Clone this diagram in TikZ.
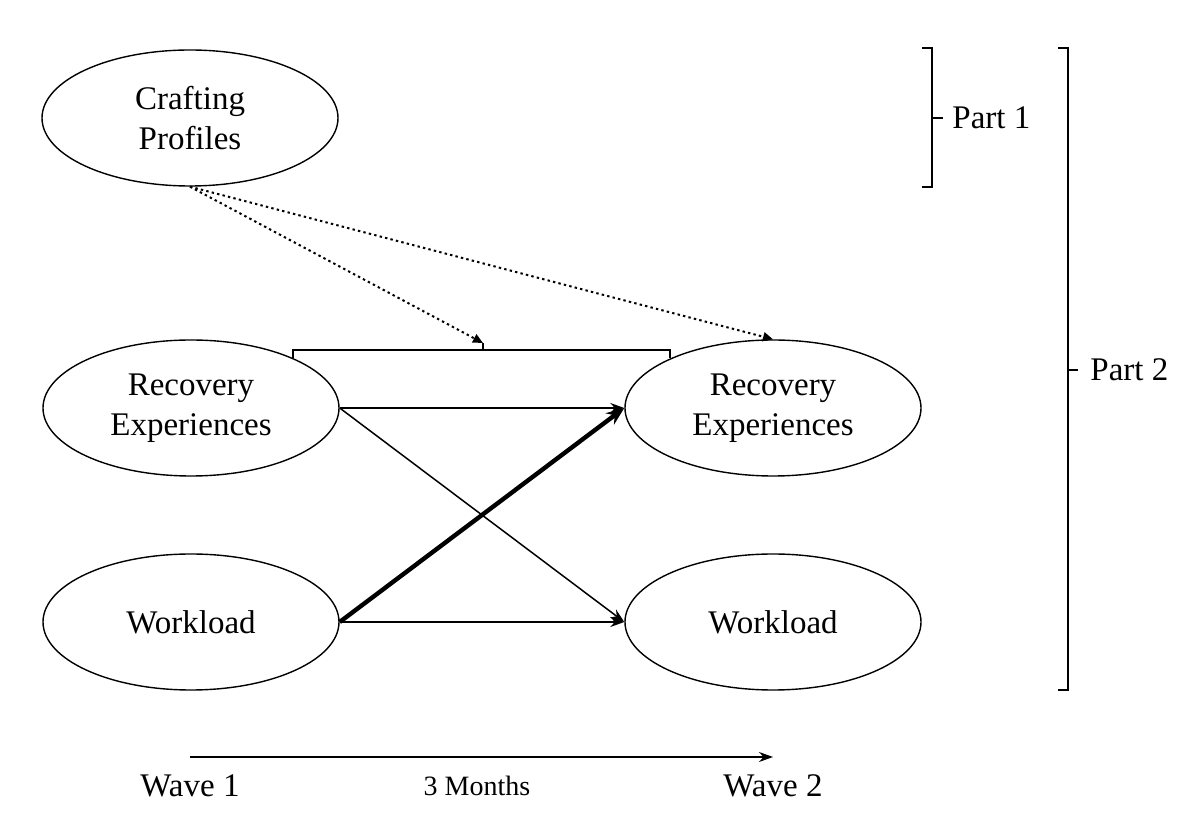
\documentclass[tikz,border=0pt]{standalone}
\usepackage{fontspec}
\setmainfont{Liberation Serif}
\usetikzlibrary{shapes.geometric,arrows.meta}
\begin{document}
\begin{tikzpicture}[x=0.5pt,y=-0.5pt,
  latent/.style={draw,ellipse,line width=0.7pt,minimum width=148pt,minimum height=68pt,inner sep=0pt,align=center,font=\fontsize{16.5}{20}\selectfont},
  path/.style={line width=0.75pt,-{Stealth[length=7pt,width=5pt]}},
  strong/.style={line width=2.2pt,-{Stealth[length=9pt,width=7pt]}},
  dotarrow/.style={line width=1pt,dash pattern=on 1.2pt off 1.6pt,-{Triangle[length=5pt,width=4.5pt]}},
  brk/.style={line width=0.75pt},
  lbl/.style={font=\fontsize{16.5}{20}\selectfont,inner sep=0pt},
  small/.style={font=\fontsize{14}{16}\selectfont,inner sep=0pt}]
\useasboundingbox (0,0) rectangle (1200,833);
\node[latent] (cp) at (190,118) {Crafting\\Profiles};
\node[latent] (re1) at (191,408) {Recovery\\Experiences};
\node[latent] (wl1) at (191,622) {Workload};
\node[latent] (re2) at (773,408) {Recovery\\Experiences};
\node[latent] (wl2) at (773,622) {Workload};
% cross-lagged paths
\draw[path] (re1.east) -- (re2.west);
\draw[path] (re1.east) -- (wl2.west);
\draw[path] (wl1.east) -- (wl2.west);
\draw[strong] (wl1.east) -- (re2.west);
% bracket joining the two recovery nodes
\coordinate (bl) at (293,358);
\coordinate (br) at (670,358);
\coordinate (bm) at (483,350);
\coordinate (bn) at (483,343);
\draw[brk] (bl) -- (293,350) -- (670,350) -- (br);
\draw[brk] (bm) -- (bn);
% moderation paths
\draw[dotarrow] (cp.south) -- (bn);
\draw[dotarrow] (cp.south) -- (re2.north);
% Part 1 bracket
\coordinate (p1t) at (922,48);
\coordinate (p1b) at (922,187);
\coordinate (p1m) at (932,118);
\draw[brk] (p1t) -- (932,48) -- (932,187) -- (p1b);
\node[lbl,anchor=west] (part1) at (952,118) {Part 1};
\draw[brk] (p1m) -- (943,118);
% Part 2 bracket
\coordinate (p2t) at (1058,48);
\coordinate (p2b) at (1058,690);
\coordinate (p2m) at (1068,370);
\draw[brk] (p2t) -- (1068,48) -- (1068,690) -- (p2b);
\node[lbl,anchor=west] (part2) at (1090,370) {Part 2};
\draw[brk] (p2m) -- (1078,370);
% time axis
\node[lbl] (w1) at (190,786) {Wave 1};
\node[lbl] (w2) at (773,786) {Wave 2};
\node[small] (m3) at (477,786) {3 Months};
\coordinate (ta) at (190,757);
\coordinate (tb) at (773,757);
\draw[path] (ta) -- (tb);
\end{tikzpicture}
\end{document}
